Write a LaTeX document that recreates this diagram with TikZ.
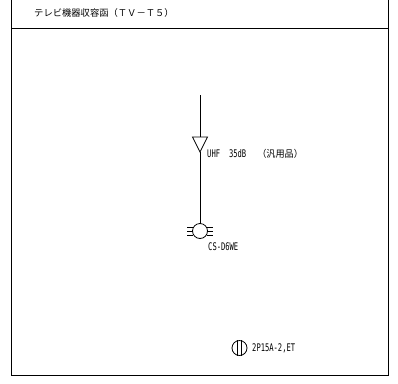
\documentclass[tikz,border=0pt]{standalone}
\usepackage{fontspec}
\setmainfont{Noto Sans CJK JP}
\newfontfamily\narrowfont[FakeStretch=0.68]{DejaVu Sans Mono}
\newfontfamily\narrowcjk[FakeStretch=0.95]{Noto Sans CJK JP}
\begin{document}
\begin{tikzpicture}[x=1pt,y=-1pt,
    lbl/.style={anchor=west,inner sep=0pt,font=\fontsize{10.5}{11}\narrowfont},
    thin line/.style={line width=0.8pt}]
    \useasboundingbox (0,0) rectangle (398,383);
    \coordinate (frameTL) at (11,-2);
    \coordinate (frameBR) at (388.5,375.5);
    \draw[thin line] (frameTL) rectangle (frameBR);
    \draw[thin line] (11,28) -- (388.5,28);
    \node[anchor=west,inner sep=0pt,font=\fontsize{9.3}{10}\selectfont] (title) at (34,13) {テレビ機器収容函（ＴＶ－Ｔ５）};
    % amplifier
    \coordinate (feedTop) at (200,95);
    \coordinate (ampL) at (192.5,137);
    \coordinate (ampR) at (207.5,137);
    \coordinate (ampTip) at (200,152);
    \coordinate (ampTop) at (200,137);
    \draw[thin line] (feedTop) -- (ampTop);
    \draw[thin line] (ampL) -- (ampR) -- (ampTip) -- cycle;
    % outlet
    \node[draw,thin line,circle,minimum size=15pt,inner sep=0pt] (outlet) at (200,231) {};
    \draw[thin line] (ampTip) -- (outlet.north);
    \node[lbl] (ampLabel) at (207,154) {UHF\hspace{9pt}35dB\hspace{11pt}{\fontsize{9.6}{10}\narrowcjk （汎用品）}};
    \draw[thin line] (outlet.west) ++(1.2,-4) -- ++(-6,0);
    \draw[thin line] (outlet.west) -- ++(-5,0);
    \draw[thin line] (outlet.west) ++(1.2,4) -- ++(-6,0);
    \draw[thin line] (outlet.east) ++(-1.2,-4) -- ++(6,0);
    \draw[thin line] (outlet.east) -- ++(5,0);
    \draw[thin line] (outlet.east) ++(-1.2,4) -- ++(6,0);
    \node[lbl] (outletLabel) at (208,247) {CS-D6WE};
    % breaker
    \node[draw,thin line,circle,minimum size=15pt,inner sep=0pt] (breaker) at (239.5,348) {};
    \draw[thin line] ([xshift=-1.8pt]breaker.north) -- ([xshift=-1.8pt]breaker.south);
    \draw[thin line] ([xshift=1.8pt]breaker.north) -- ([xshift=1.8pt]breaker.south);
    \node[lbl] (breakerLabel) at (252,348) {2P15A-2,ET};
\end{tikzpicture}
\end{document}
